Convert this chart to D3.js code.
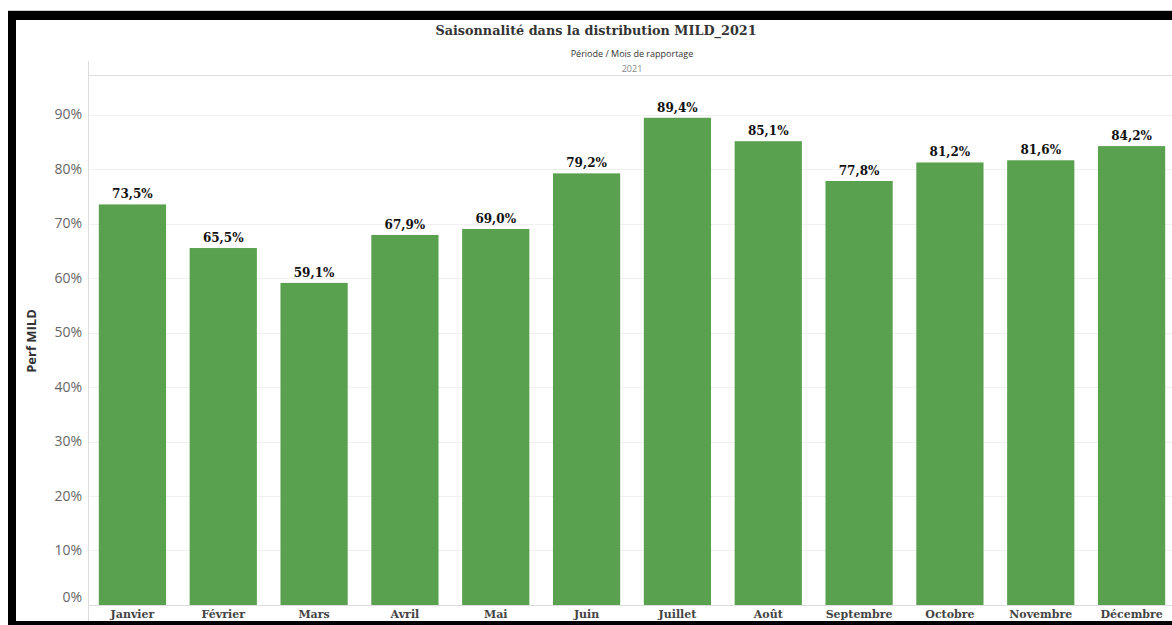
<!DOCTYPE html>
<html><head><meta charset="utf-8">
<script src="https://cdnjs.cloudflare.com/ajax/libs/d3/7.8.5/d3.min.js"></script>
<style>
html,body{margin:0;padding:0;background:#fff;}
svg{display:block;}
</style></head>
<body>
<svg id="chart" width="1172" height="625"></svg>
<script>
const months = ["Janvier","Février","Mars","Avril","Mai","Juin","Juillet","Août","Septembre","Octobre","Novembre","Décembre"];
const perfValues = [0.735,0.655,0.591,0.679,0.690,0.792,0.894,0.851,0.778,0.812,0.816,0.842];
const yTicks = [0,0.1,0.2,0.3,0.4,0.5,0.6,0.7,0.8,0.9];
const titleText = "Saisonnalité dans la distribution MILD_2021";
const headerLabel = "Période / Mois de rapportage";
const headerYear = "2021";
const yAxisLabel = "Perf MILD";

const svg = d3.select("#chart");
const W = 1172, H = 625;
const loc = d3.formatLocale({decimal:",", thousands:" ", grouping:[3], currency:["","€"]});
const fmtLabel = loc.format(".1%");
const fmtTick = loc.format(".0%");

const x = d3.scaleBand().domain(months).range([87,1177]).paddingInner(0.26).paddingOuter(0.13);
const y = d3.scaleLinear().domain([0,0.9]).range([605,114.5]);

const sans = "'Open Sans','Noto Sans',sans-serif";
const serif = "'DejaVu Serif',serif";

// gridlines
svg.append("g").selectAll("line").data(yTicks.filter(d=>d>0)).join("line")
  .attr("x1",88).attr("x2",W).attr("y1",d=>Math.round(y(d))+0.5).attr("y2",d=>Math.round(y(d))+0.5)
  .attr("stroke","#f0f0f0").attr("stroke-width",1);

// header line and axis lines
svg.append("line").attr("x1",88).attr("x2",W).attr("y1",75.5).attr("y2",75.5).attr("stroke","#dcdcdc");
svg.append("line").attr("x1",88.5).attr("x2",88.5).attr("y1",61).attr("y2",H).attr("stroke","#dcdcdc");
svg.append("line").attr("x1",88).attr("x2",W).attr("y1",605.5).attr("y2",605.5).attr("stroke","#dcdcdc");

// bars
svg.append("g").selectAll("rect").data(months).join("rect")
  .attr("x",d=>x(d)).attr("width",x.bandwidth())
  .attr("y",(d,i)=>y(perfValues[i])).attr("height",(d,i)=>y(0)-y(perfValues[i]))
  .attr("fill","#59a14f");

// value labels
svg.append("g").selectAll("text").data(months).join("text")
  .attr("x",d=>x(d)+x.bandwidth()/2).attr("y",(d,i)=>y(perfValues[i])-6)
  .attr("text-anchor","middle").attr("font-family",serif).attr("font-weight","bold")
  .attr("font-size","12px").attr("fill","#111")
  .text((d,i)=>fmtLabel(perfValues[i]));

// y axis
const yAxis = d3.axisLeft(y).tickValues(yTicks).tickFormat(fmtTick).tickSize(0).tickPadding(0);
const ga = svg.append("g").attr("transform","translate(82,0)").call(yAxis);
ga.select(".domain").remove();
ga.selectAll("text").attr("font-family",sans).attr("font-size","14px").attr("fill","#666")
  .attr("dy",d=>d===0?"-0.25em":"0.3em");

// x axis
const xAxis = d3.axisBottom(x).tickSize(0).tickPadding(0);
const gx = svg.append("g").attr("transform","translate(0,606)").call(xAxis);
gx.select(".domain").remove();
gx.selectAll("text").attr("font-family",serif).attr("font-weight","bold").attr("font-size","11px").attr("fill","#444").attr("dy","1.05em");

// y label
svg.append("text").attr("transform","translate(36,341) rotate(-90)").attr("text-anchor","middle")
  .attr("font-family",sans).attr("font-weight","bold").attr("font-size","13px").attr("fill","#333").text(yAxisLabel);

// title & header
svg.append("text").attr("x",596).attr("y",35).attr("text-anchor","middle")
  .attr("font-family",serif).attr("font-weight","bold").attr("font-size","12.8px").attr("fill","#333").text(titleText);
svg.append("text").attr("x",632).attr("y",57).attr("text-anchor","middle")
  .attr("font-family",sans).attr("font-size","9px").attr("fill","#333").text(headerLabel);
svg.append("text").attr("x",632).attr("y",72).attr("text-anchor","middle")
  .attr("font-family",sans).attr("font-size","9px").attr("fill","#888").text(headerYear);

// black frame
svg.append("rect").attr("x",8).attr("y",11).attr("width",W-8).attr("height",9).attr("fill","#000");
svg.append("rect").attr("x",8).attr("y",11).attr("width",8).attr("height",H-11).attr("fill","#000");
svg.append("rect").attr("x",8).attr("y",621).attr("width",W-8).attr("height",4).attr("fill","#000");
svg.append("line").attr("x1",8).attr("x2",W).attr("y1",10.5).attr("y2",10.5).attr("stroke","#ccc");
</script>
</body></html>
